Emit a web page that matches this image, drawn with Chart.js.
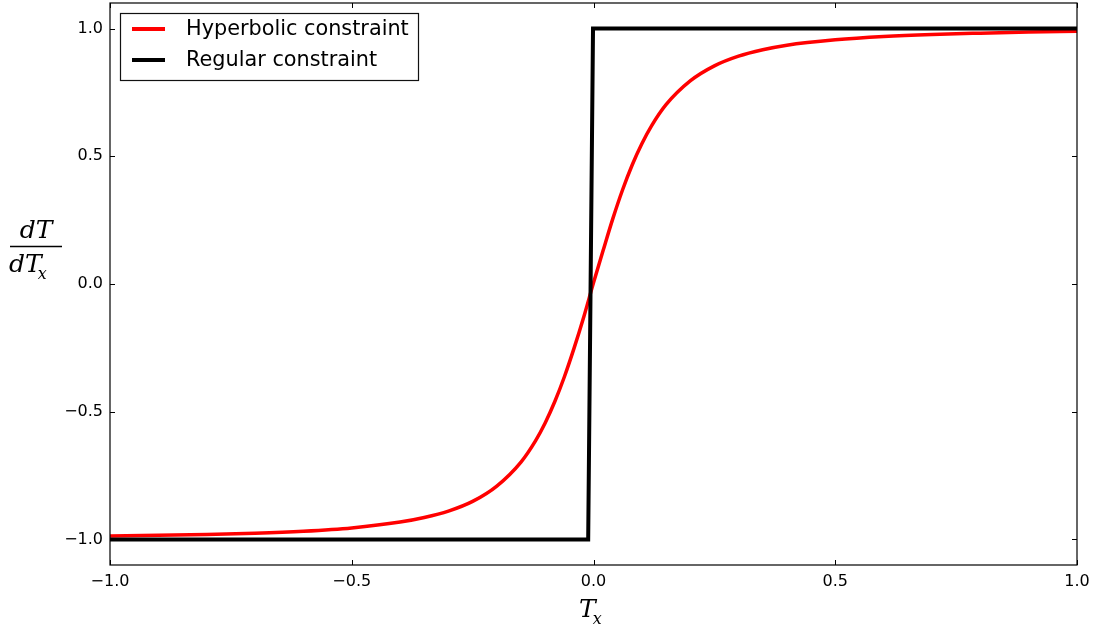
<!DOCTYPE html>
<html>
<head>
<meta charset="utf-8">
<script src="https://cdn.jsdelivr.net/npm/chart.js@4/dist/chart.umd.min.js"></script>
<style>
  html, body { margin: 0; padding: 0; background: #fff; }
  #c { display: block; }
</style>
</head>
<body>
<canvas id="c" width="1094" height="630"></canvas>
<script>
// ---- data ----
const hyperX = [-1.0, -0.9, -0.8, -0.7, -0.6, -0.5, -0.4, -0.35, -0.3, -0.25, -0.2, -0.15, -0.12, -0.1, -0.08, -0.06, -0.04, -0.02, 0.0, 0.02, 0.04, 0.06, 0.08, 0.1, 0.12, 0.15, 0.2, 0.25, 0.3, 0.35, 0.4, 0.5, 0.6, 0.7, 0.8, 0.9, 1.0];
const hyperY = [-0.986, -0.984, -0.981, -0.976, -0.968, -0.955, -0.932, -0.914, -0.889, -0.851, -0.791, -0.697, -0.614, -0.544, -0.460, -0.362, -0.250, -0.128, 0.005, 0.132, 0.256, 0.368, 0.466, 0.549, 0.619, 0.702, 0.795, 0.854, 0.892, 0.917, 0.935, 0.956, 0.969, 0.977, 0.982, 0.986, 0.989];
const regularX = [-1.0, -0.011, -0.001, 1.0];
const regularY = [-1.0, -1.0, 1.0, 1.0];
const xTicks = [-1.0, -0.5, 0.0, 0.5, 1.0];
const yTicks = [-1.0, -0.5, 0.0, 0.5, 1.0];
const seriesLabels = ['Hyperbolic constraint', 'Regular constraint'];
const seriesColors = ['#ff0000', '#000000'];

const fmt = v => (v < 0 ? '\u2212' : '') + Math.abs(v).toFixed(1);
const toPts = (xs, ys) => xs.map((x, i) => ({ x: x, y: ys[i] }));

const decor = {
  id: 'decor',
  afterDraw(chart) {
    const ctx = chart.ctx;
    const ca = chart.chartArea;
    const xs = chart.scales.x, ys = chart.scales.y;
    ctx.save();
    // frame
    ctx.strokeStyle = '#000';
    ctx.lineWidth = 1.2;
    ctx.strokeRect(ca.left, ca.top, ca.right - ca.left, ca.bottom - ca.top);
    // inside ticks
    ctx.lineWidth = 1;
    const tl = 5;
    xTicks.forEach(v => {
      const p = Math.round(xs.getPixelForValue(v)) + 0.5;
      ctx.beginPath();
      ctx.moveTo(p, ca.bottom); ctx.lineTo(p, ca.bottom - tl);
      ctx.moveTo(p, ca.top); ctx.lineTo(p, ca.top + tl);
      ctx.stroke();
    });
    yTicks.forEach(v => {
      const p = Math.round(ys.getPixelForValue(v)) + 0.5;
      ctx.beginPath();
      ctx.moveTo(ca.left, p); ctx.lineTo(ca.left + tl, p);
      ctx.moveTo(ca.right, p); ctx.lineTo(ca.right - tl, p);
      ctx.stroke();
    });
    // legend
    const lx = 120, ly = 13, lw = 298, lh = 67;
    ctx.fillStyle = '#fff';
    ctx.fillRect(lx, ly, lw, lh);
    ctx.strokeStyle = '#111';
    ctx.lineWidth = 1.2;
    ctx.strokeRect(lx + 0.5, ly + 0.5, lw, lh);
    const ds = chart.data.datasets;
    ds.forEach((d, i) => {
      const cy = 29 + i * 31;
      ctx.strokeStyle = d.borderColor;
      ctx.lineWidth = 4;
      ctx.beginPath();
      ctx.moveTo(132, cy); ctx.lineTo(165, cy);
      ctx.stroke();
      ctx.fillStyle = '#000';
      ctx.font = '20.8px "DejaVu Sans"';
      ctx.textBaseline = 'middle';
      ctx.textAlign = 'left';
      ctx.fillText(d.label, 186, cy + 1);
    });
    // y title: dT / dT_x
    ctx.fillStyle = '#000';
    ctx.textBaseline = 'alphabetic';
    ctx.textAlign = 'left';
    ctx.font = 'italic 25px "DejaVu Serif"';
    const wNum = ctx.measureText('dT').width;
    ctx.fillText('dT', 36 - wNum / 2, 238);
    ctx.fillText('dT', 9, 272);
    const wDen = ctx.measureText('dT').width;
    ctx.font = 'italic 16px "DejaVu Serif"';
    ctx.fillText('x', 9 + wDen - 4, 279);
    ctx.strokeStyle = '#000';
    ctx.lineWidth = 1.4;
    ctx.beginPath();
    ctx.moveTo(10, 246.5); ctx.lineTo(62, 246.5);
    ctx.stroke();
    // x title: T_x
    ctx.font = 'italic 25px "DejaVu Serif"';
    const wT = ctx.measureText('T').width;
    ctx.fillText('T', 579, 617);
    ctx.font = 'italic 16px "DejaVu Serif"';
    ctx.fillText('x', 579 + wT - 3, 624);
    ctx.restore();
  }
};

new Chart(document.getElementById('c'), {
  type: 'line',
  data: {
    datasets: [
      {
        label: seriesLabels[0],
        data: toPts(hyperX, hyperY),
        borderColor: seriesColors[0],
        borderWidth: 3.5,
        pointRadius: 0,
        fill: false,
        cubicInterpolationMode: 'monotone',
        order: 1
      },
      {
        label: seriesLabels[1],
        data: toPts(regularX, regularY),
        borderColor: seriesColors[1],
        borderWidth: 4,
        pointRadius: 0,
        fill: false,
        tension: 0,
        borderJoinStyle: 'miter',
        order: 0
      }
    ]
  },
  options: {
    responsive: false,
    animation: false,
    devicePixelRatio: 1,
    layout: { padding: { top: 3, right: 17, left: 0, bottom: 0 } },
    plugins: { legend: { display: false }, tooltip: { enabled: false } },
    scales: {
      x: {
        type: 'linear',
        min: -1, max: 1,
        grid: { display: false, drawTicks: false },
        border: { display: false },
        afterBuildTicks: s => { s.ticks = xTicks.map(v => ({ value: v })); },
        afterFit: s => { s.height = 65; s.paddingLeft = 0; s.paddingRight = 0; },
        ticks: {
          autoSkip: false, maxRotation: 0, padding: 7,
          color: '#000',
          font: { family: 'DejaVu Sans', size: 16 },
          callback: v => fmt(v)
        }
      },
      y: {
        type: 'linear',
        min: -1.1, max: 1.1,
        grid: { display: false, drawTicks: false },
        border: { display: false },
        afterBuildTicks: s => { s.ticks = yTicks.map(v => ({ value: v })); },
        afterFit: s => { s.width = 110; s.paddingTop = 0; s.paddingBottom = 0; },
        ticks: {
          autoSkip: false, padding: 7,
          color: '#000',
          font: { family: 'DejaVu Sans', size: 16 },
          callback: v => fmt(v)
        }
      }
    }
  },
  plugins: [decor]
});
</script>
</body>
</html>
